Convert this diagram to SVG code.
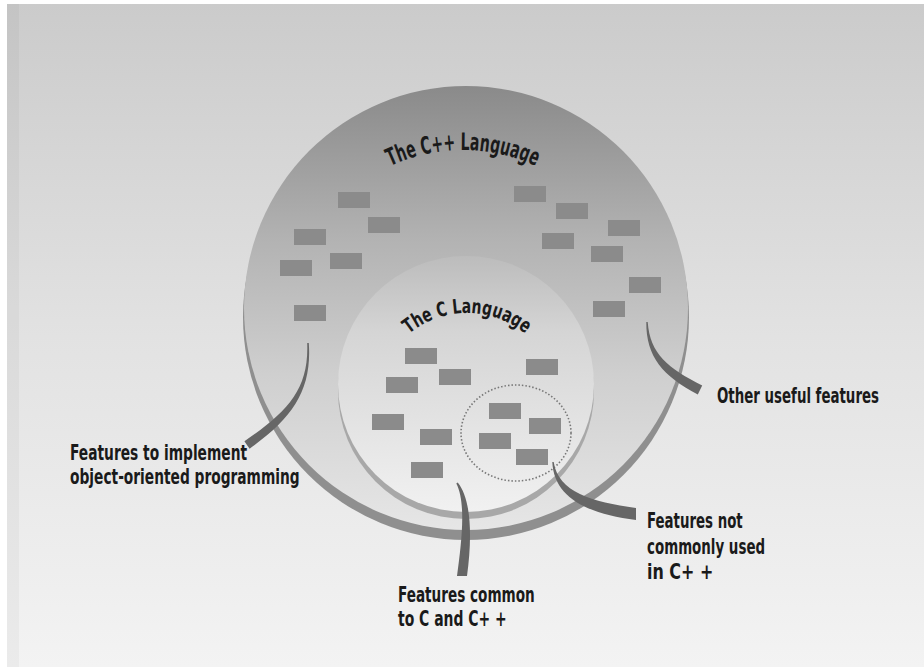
<svg xmlns="http://www.w3.org/2000/svg" width="924" height="670" viewBox="0 0 924 670">
<defs>
<linearGradient id="bg" x1="0" y1="0" x2="0" y2="1">
<stop offset="0" stop-color="#cbcbcb"/>
<stop offset="0.5" stop-color="#e2e2e2"/>
<stop offset="1" stop-color="#f3f3f3"/>
</linearGradient>
<linearGradient id="outerFill" x1="0" y1="0" x2="0" y2="1">
<stop offset="0" stop-color="#8a8a8a"/>
<stop offset="0.35" stop-color="#b3b3b3"/>
<stop offset="0.65" stop-color="#cfcfcf"/>
<stop offset="1" stop-color="#e6e6e6"/>
</linearGradient>
<linearGradient id="innerFill" x1="0" y1="0" x2="0" y2="1">
<stop offset="0" stop-color="#bcbcbc"/>
<stop offset="0.3" stop-color="#d5d5d5"/>
<stop offset="1" stop-color="#f1f1f1"/>
</linearGradient>
<path id="arcOuter" d="M 291 322 A 172 172 0 0 1 635 322"/>
<path id="arcInner" d="M 375 405 A 92 92 0 0 1 559 405"/>
</defs>
<style>
.feat { fill: #8b8b8b; }
.lbl { font-family: "DejaVu Sans Condensed", "DejaVu Sans", "Liberation Sans", sans-serif; font-weight: bold; font-size: 22px; fill: #1a1a1a; }
.ttl { font-family: "DejaVu Sans Condensed", "DejaVu Sans", "Liberation Sans", sans-serif; font-weight: bold; fill: #1a1a1a; }
.lead { fill: #666; }
</style>
<rect x="0" y="0" width="924" height="670" fill="#ffffff"/>
<rect x="7" y="4" width="917" height="663" fill="url(#bg)"/>
<rect x="7" y="4" width="12" height="663" fill="#000" opacity="0.03"/>

<g id="cpp-language">
<circle cx="466" cy="317" r="223" fill="#8f8f8f"/>
<circle cx="466" cy="308" r="222" fill="url(#outerFill)"/>
<text class="ttl" font-size="24"><textPath href="#arcOuter" startOffset="50%" text-anchor="middle" textLength="150" lengthAdjust="spacingAndGlyphs">The C++ Language</textPath></text>
<rect class="feat" x="338" y="192" width="32" height="16"/>
<rect class="feat" x="368" y="217" width="32" height="16"/>
<rect class="feat" x="294" y="229" width="32" height="16"/>
<rect class="feat" x="280" y="260" width="32" height="16"/>
<rect class="feat" x="330" y="253" width="32" height="16"/>
<rect class="feat" x="294" y="305" width="32" height="16"/>
<rect class="feat" x="514" y="186" width="32" height="16"/>
<rect class="feat" x="556" y="203" width="32" height="16"/>
<rect class="feat" x="542" y="233" width="32" height="16"/>
<rect class="feat" x="608" y="220" width="32" height="16"/>
<rect class="feat" x="591" y="246" width="32" height="16"/>
<rect class="feat" x="629" y="277" width="32" height="16"/>
<rect class="feat" x="593" y="301" width="32" height="16"/>
</g>

<g id="c-language">
<circle cx="466" cy="391" r="128" fill="#a8a8a8"/>
<circle cx="466" cy="384" r="128" fill="url(#innerFill)"/>
<text class="ttl" font-size="20"><textPath href="#arcInner" startOffset="50%" text-anchor="middle" textLength="126" lengthAdjust="spacingAndGlyphs">The C Language</textPath></text>
<rect class="feat" x="405" y="348" width="32" height="16"/>
<rect class="feat" x="439" y="369" width="32" height="16"/>
<rect class="feat" x="386" y="377" width="32" height="16"/>
<rect class="feat" x="526" y="359" width="32" height="16"/>
<rect class="feat" x="372" y="414" width="32" height="16"/>
<rect class="feat" x="420" y="429" width="32" height="16"/>
<rect class="feat" x="411" y="462" width="32" height="16"/>
</g>

<g id="uncommon-features">
<ellipse cx="516" cy="433" rx="55" ry="48" fill="none" stroke="#777" stroke-width="1.6" stroke-dasharray="1.5 2"/>
<rect class="feat" x="489" y="403" width="32" height="16"/>
<rect class="feat" x="529" y="418" width="32" height="16"/>
<rect class="feat" x="479" y="433" width="32" height="16"/>
<rect class="feat" x="516" y="449" width="32" height="16"/>
</g>

<g id="connectors">
<path class="lead" d="M 307.2 343 C 309 390 287 412 244.4 441.3 L 249.6 448.7 C 293 418 312 390 308.8 343 Z"/>
<path class="lead" d="M 646.3 322 C 646 357 663 376 697.8 394.5 L 702.2 385.5 C 668 368 650 354 647.7 322 Z"/>
<path class="lead" d="M 456.3 483.5 C 466 502 462 540 457 576 L 467 576 C 472 540 472 500 457.7 482.5 Z"/>
<path class="lead" d="M 552.3 462 C 554 498 588 514 636 520 L 636 508 C 592 502 558 492 553.7 462 Z"/>
</g>

<g id="label-oop">
<text class="lbl" transform="translate(70 460) scale(0.72 1)" textLength="246" lengthAdjust="spacingAndGlyphs">Features to implement</text>
<text class="lbl" transform="translate(70 484) scale(0.72 1)" textLength="319" lengthAdjust="spacingAndGlyphs">object-oriented programming</text>
</g>
<g id="label-other">
<text class="lbl" transform="translate(717 403) scale(0.72 1)" textLength="225" lengthAdjust="spacingAndGlyphs">Other useful features</text>
</g>
<g id="label-not-common">
<text class="lbl" transform="translate(647 528) scale(0.72 1)" textLength="133" lengthAdjust="spacingAndGlyphs">Features not</text>
<text class="lbl" transform="translate(647 554) scale(0.72 1)" textLength="164" lengthAdjust="spacingAndGlyphs">commonly used</text>
<text class="lbl" transform="translate(647 579) scale(0.72 1)" textLength="92" lengthAdjust="spacingAndGlyphs">in C+ +</text>
</g>
<g id="label-common">
<text class="lbl" transform="translate(398 602) scale(0.72 1)" textLength="190" lengthAdjust="spacingAndGlyphs">Features common</text>
<text class="lbl" transform="translate(398 626) scale(0.72 1)" textLength="151" lengthAdjust="spacingAndGlyphs">to C and C+ +</text>
</g>
</svg>
